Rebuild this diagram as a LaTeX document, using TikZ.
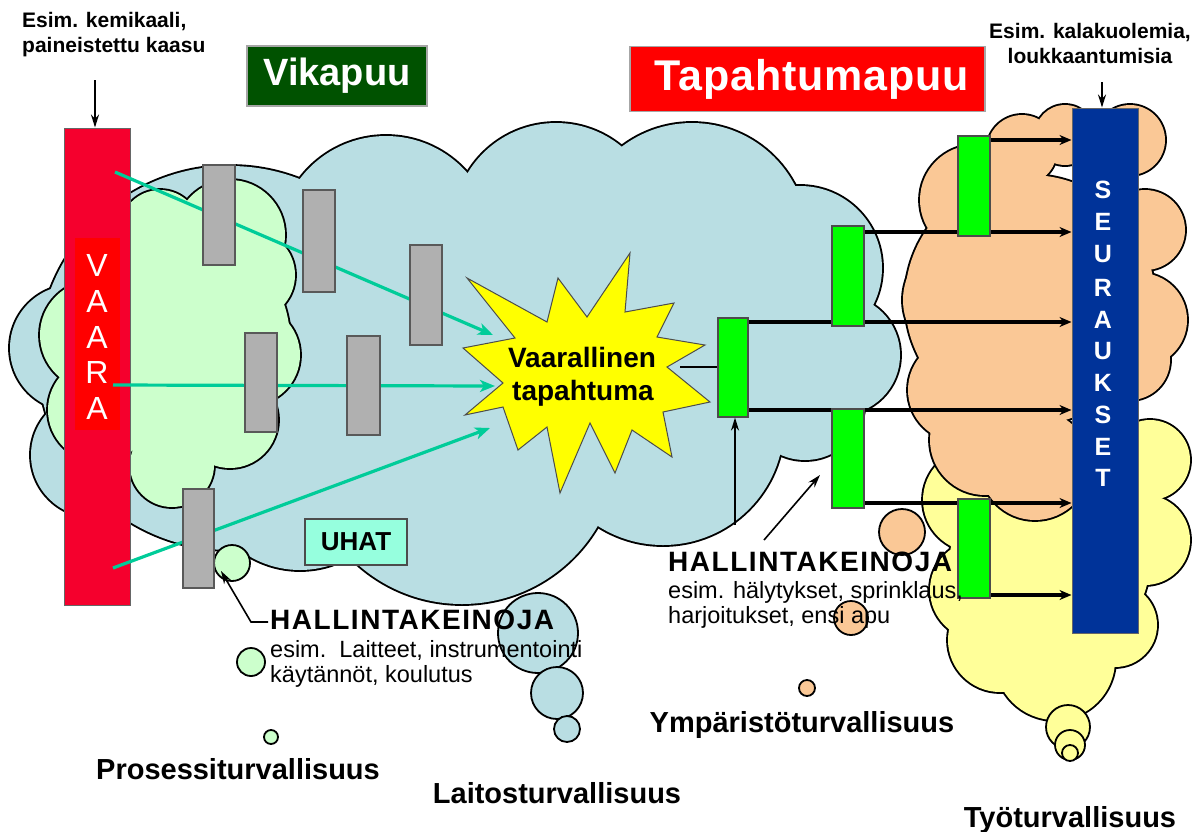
\documentclass[tikz,border=0pt]{standalone}
\usepackage{fontspec}
\setmainfont{Liberation Sans}
\usetikzlibrary{arrows.meta,calc}
\definecolor{cblue}{RGB}{185,222,227}
\definecolor{cgreen}{RGB}{204,255,204}
\definecolor{corange}{RGB}{250,200,150}
\definecolor{cyellow}{RGB}{255,255,153}
\definecolor{vaarared}{RGB}{245,0,45}
\definecolor{brightred}{RGB}{255,0,0}
\definecolor{seurblue}{RGB}{0,51,153}
\definecolor{grayfill}{RGB}{176,176,176}
\definecolor{greenfill}{RGB}{0,255,0}
\definecolor{tealc}{RGB}{0,204,153}
\definecolor{vikagreen}{RGB}{0,82,0}
\definecolor{uhatfill}{RGB}{150,255,222}
\definecolor{staryellow}{RGB}{255,255,0}
\newcommand\fsz[1]{\fontsize{#1}{#1}\selectfont}
\newcommand\cloudshape[2]{%
  \foreach \ccx/\ccy/\ccr in {#2}{\draw[line width=3.8pt] (\ccx,\ccy) circle[radius=\ccr];}
  \foreach \ccx/\ccy/\ccr in {#2}{\fill[#1] (\ccx,\ccy) circle[radius=\ccr];}
}
\tikzset{
  grayrect/.style={draw=black!65, fill=grayfill, line width=1.2pt, minimum width=32pt, minimum height=100pt, inner sep=0pt},
  greenrect/.style={draw=black!70, fill=greenfill, line width=1.2pt, minimum width=31pt, minimum height=100pt, inner sep=0pt},
  tealarrow/.style={draw=tealc, line width=3.2pt, -{Stealth[length=15pt,width=12pt,inset=4pt]}},
  blackarrow/.style={draw=black, line width=3.2pt, -{Stealth[length=12pt,width=10pt]}},
  thinarrow/.style={draw=black, line width=1.6pt, -{Stealth[length=13pt,width=8pt]}},
  smallc/.style={draw=black, line width=1.8pt},
  txt/.style={inner sep=0pt, anchor=base west},
  ctxt/.style={inner sep=0pt, anchor=base},
  vletter/.style={inner sep=0pt, text=white, font=\fsz{32}},
  sletter/.style={inner sep=0pt, text=white, font=\bfseries\fsz{25}},
  titlebox/.style={draw=black!35, line width=1.2pt, inner sep=0pt}
}
\begin{document}
\begin{tikzpicture}[x=1pt,y=-1pt]
\useasboundingbox (0,0) rectangle (1197,831);
\fill[white] (0,0) rectangle (1197,831);

% ---- clouds ----
\cloudshape{cyellow}{975/500/52, 980/590/50, 1000/640/52, 1055/660/60, 1115/625/42, 1145/540/45, 1150/460/40, 1050/560/100}
\cloudshape{corange}{1022/150/35, 1065/135/30, 1130/140/35, 1145/230/40, 1140/320/47, 1130/360/40, 975/200/55, 965/300/62, 960/390/52, 985/440/55, 1035/465/55, 1030/300/125}
\cloudshape{cblue}{230/358/192, 386/244/108, 556/226/103, 692/239/116, 800/268/82, 840/355/60, 805/400/60, 760/340/62, 663/424/121, 462/447/157, 300/470/100, 73/348/63, 93/455/62, 480/330/140}
\cloudshape{cgreen}{160/230/40, 230/235/55, 250/275/45, 250/355/50, 230/420/48, 172/465/42, 95/335/55, 100/410/52, 180/340/110}

% small bubbles
\foreach \ccx/\ccy/\ccr in {232/563/18, 251/662/14, 271/737/7}{\draw[smallc, fill=cgreen] (\ccx,\ccy) circle[radius=\ccr];}
\foreach \ccx/\ccy/\ccr in {538/633/40, 557/693/26, 567/729/13}{\draw[smallc, fill=cblue] (\ccx,\ccy) circle[radius=\ccr];}
\foreach \ccx/\ccy/\ccr in {902/532/23, 851/618/17, 807/688/8}{\draw[smallc, fill=corange] (\ccx,\ccy) circle[radius=\ccr];}
\foreach \ccx/\ccy/\ccr in {1068/727/22, 1070/745/15, 1070/753/8}{\draw[smallc, fill=cyellow] (\ccx,\ccy) circle[radius=\ccr];}

% ---- bars ----
\node[draw=black!60, line width=1pt, fill=vaarared, minimum width=66pt, minimum height=477pt, inner sep=0pt] (vaara) at (97,366.5) {};
\node[fill=brightred, minimum width=45pt, minimum height=192pt, inner sep=0pt] (vaarain) at (97.5,334) {};
\node[vletter] (v1) at (97,265) {V};
\node[vletter] (v2) at (97,301) {A};
\node[vletter] (v3) at (97,337) {A};
\node[vletter] (v4) at (97,372) {R};
\node[vletter] (v5) at (97,408) {A};

\node[draw=black!60, line width=1pt, fill=seurblue, minimum width=66pt, minimum height=525pt, inner sep=0pt] (seur) at (1105,370.5) {};
\foreach \L/\yy [count=\i] in {S/190,E/222,U/254,R/288,A/320,U/351,K/383,S/415,E/447,T/478}{
  \node[sletter] (s\i) at (1103,\yy) {\L};
}

% ---- title boxes ----
\node[titlebox, fill=vikagreen, minimum width=180pt, minimum height=60pt] (vika) at (337,76) {};
\node[inner sep=0pt, text=white, font=\bfseries\fsz{38}] (vikat) at (337,76) {Vikapuu};
\node[titlebox, fill=brightred, minimum width=355pt, minimum height=65pt] (tapa) at (807.5,79) {};
\node[inner sep=0pt, text=white, font=\bfseries\fsz{43}] (tapat) at (812,79) {\addfontfeature{LetterSpace=2}Tapahtumapuu};

% ---- star ----
\draw[fill=staryellow, draw=black!70, line width=1pt]
 (467,278) -- (547,322) -- (558,278) -- (587,317) -- (630,253) -- (625,312) --
 (674,303) -- (657,337) -- (705,345) -- (667,367) -- (710,402) -- (663,412) --
 (672,457) -- (632,430) -- (615,473) -- (590,423) -- (560,493) -- (547,427) --
 (518,450) -- (503,407) -- (465,415) -- (503,383) -- (463,348) -- (515,338) -- cycle;
\node[ctxt, font=\bfseries\fsz{28}] (st1) at (582,367) {Vaarallinen};
\node[ctxt, font=\bfseries\fsz{28}] (st2) at (583,400) {tapahtuma};

% ---- teal lines ----
\coordinate (ts1) at (115,172); \coordinate (te1) at (493,335);
\coordinate (ts2) at (113,385); \coordinate (te2) at (495,386);
\coordinate (ts3) at (113,568); \coordinate (te3) at (490,428);
\draw[tealarrow] (ts1) -- (te1);
\draw[tealarrow] (ts2) -- (te2);
\draw[tealarrow] (ts3) -- (te3);

% ---- gray rects ----
\node[grayrect] (g1) at (219,215) {};
\node[grayrect, minimum height=102pt] (g2) at (319,241) {};
\node[grayrect] (g3) at (426,295) {};
\node[grayrect, minimum height=99pt] (g4) at (261,382.5) {};
\node[grayrect, minimum width=33pt, minimum height=99pt] (g5) at (363.5,385.5) {};
\node[grayrect, minimum width=31pt, minimum height=99pt] (g6) at (198.5,538.5) {};

% black connector lines (behind green rects)
\coordinate (lD) at (990,140);
\coordinate (lB) at (864,232);
\coordinate (lA1) at (748,322);
\coordinate (lA2) at (748,410);
\coordinate (lC) at (864,503);
\coordinate (lE) at (990,595);
\draw[blackarrow] (lD) -- (lD -| seur.west);
\draw[blackarrow] (lB) -- (lB -| seur.west);
\draw[blackarrow] (lA1) -- (lA1 -| seur.west);
\draw[blackarrow] (lA2) -- (lA2 -| seur.west);
\draw[blackarrow] (lC) -- (lC -| seur.west);
\draw[blackarrow] (lE) -- (lE -| seur.west);

\node[greenrect, minimum width=30pt, minimum height=99pt] (A) at (733,367.5) {};
\node[greenrect, minimum width=32pt] (B) at (848,276) {};
\node[greenrect, minimum width=32pt, minimum height=99pt] (C) at (848,458.5) {};
\node[greenrect, minimum width=32pt] (D) at (974,186) {};
\node[greenrect, minimum width=32pt, minimum height=99pt] (E) at (974,548.5) {};

\coordinate (ls0) at (680,367);
\draw[black, line width=1.6pt] (ls0) -- (ls0 -| A.west);

% ---- UHAT ----
\node[draw=black!70, line width=1.2pt, fill=uhatfill, minimum width=102pt, minimum height=46pt, inner sep=0pt, font=\bfseries\fsz{26}] (uhat) at (356,542) {UHAT};

% ---- texts ----
\node[txt, font=\bfseries\fsz{21}] (tl1) at (22,27) {Esim. kemikaali,};
\node[txt, font=\bfseries\fsz{21}] (tl2) at (22,52) {paineistettu kaasu};
\node[ctxt, font=\bfseries\fsz{21}] (tr1) at (1090,38) {Esim. kalakuolemia,};
\node[ctxt, font=\bfseries\fsz{21}] (tr2) at (1090,63) {loukkaantumisia};

\coordinate (ta) at (95,80);
\draw[thinarrow, line width=2pt] (ta) -- (ta |- vaara.north);
\coordinate (tb) at (1102,82);
\draw[thinarrow, line width=2pt] (tb) -- (tb |- seur.north);

\node[txt, font=\bfseries\fsz{28}] (hk1) at (270,629) {\addfontfeature{LetterSpace=5.5}HALLINTAKEINOJA};
\node[txt, font=\fsz{23.5}] (hk1a) at (270,657) {esim.\ \ Laitteet, instrumentointi};
\node[txt, font=\fsz{23.5}] (hk1b) at (270,682) {käytännöt, koulutus};

\node[txt, font=\bfseries\fsz{28}] (hk2) at (668,571) {\addfontfeature{LetterSpace=5.5}HALLINTAKEINOJA};
\node[txt, font=\fsz{23.5}] (hk2a) at (668,598) {esim. hälytykset, sprinklaus,};
\node[txt, font=\fsz{23.5}] (hk2b) at (668,623) {harjoitukset, ensi apu};

% control arrows
\coordinate (h1s) at (268,622);
\coordinate (h1m) at (251,622);
\coordinate (h1e) at (221,571);
\draw[thinarrow] (h1s) -- (h1m) -- (h1e);
\coordinate (h2s) at (735,525);
\draw[thinarrow] (h2s) -- (h2s |- A.south);
\coordinate (h3s) at (764,540);
\coordinate (h3e) at (820,475);
\draw[thinarrow] (h3s) -- (h3e);

% ---- bottom labels ----
\node[ctxt, font=\bfseries\fsz{29}] (lp) at (238,779) {Prosessiturvallisuus};
\node[ctxt, font=\bfseries\fsz{29}] (ll) at (557,803) {Laitosturvallisuus};
\node[ctxt, font=\bfseries\fsz{29}] (ly) at (802,732) {Ympäristöturvallisuus};
\node[ctxt, font=\bfseries\fsz{29}] (lt) at (1070,827) {Työturvallisuus};
\end{tikzpicture}
\end{document}
